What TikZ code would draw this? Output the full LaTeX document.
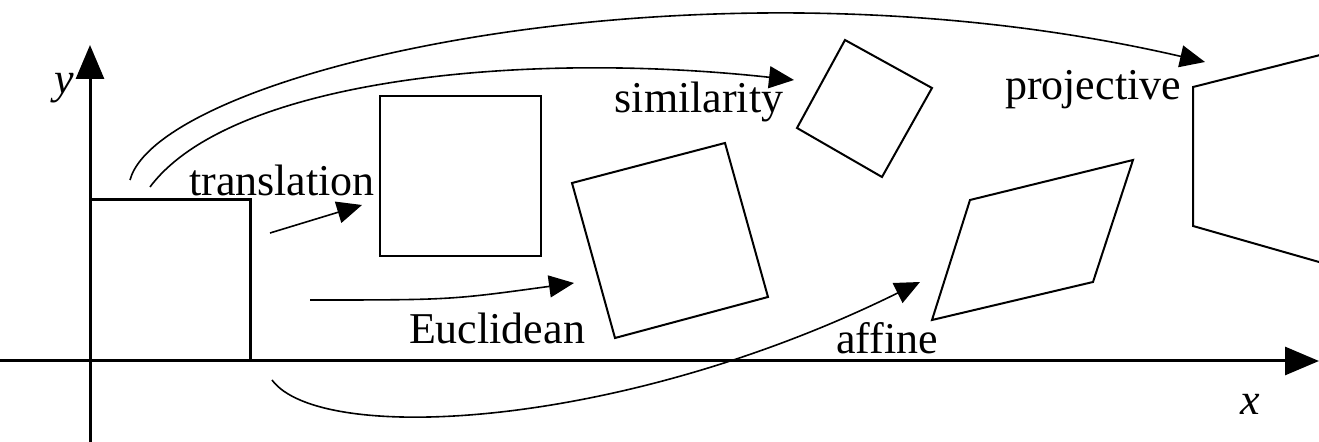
\documentclass[tikz,border=0pt]{standalone}
\usepackage{fontspec}
\setmainfont{Liberation Serif}
\usetikzlibrary{arrows.meta}

\begin{document}
\begin{tikzpicture}[x=0.5pt,y=-0.5pt,>={Triangle[length=12.5pt,width=11pt]},
  axis/.style={line width=1.5pt},
  outline/.style={line width=1pt,line join=miter},
  move/.style={line width=0.8pt,->},
  lbl/.style={font=\fontsize{22}{26}\selectfont,inner sep=0pt}]
\useasboundingbox (0,0) rectangle (1319,442);
% axes
\draw[axis,-{Triangle[length=17pt,width=14pt]}](0,361)--(1319,361);
\draw[axis,-{Triangle[length=17pt,width=14pt]}](90,442)--(90,45);
\node[lbl,font=\fontsize{22}{26}\selectfont\itshape] (ylab) at (64,88) {y};
\node[lbl,font=\fontsize{22}{26}\selectfont\itshape] (xlab) at (1250,404) {x};
% shapes
\draw[axis](90,200)--(250,200)--(250,361);
\draw[outline](380,96) rectangle (541,256);
\draw[outline](572,183)--(725,143)--(768,297)--(615,338)--cycle;
\draw[outline](845,40)--(932,88)--(882,177)--(797,128)--cycle;
\draw[outline](970,200)--(1133,160)--(1093,282)--(932,320)--cycle;
\begin{scope}
\clip (0,0) rectangle (1319,442);
\draw[outline](1340,50)--(1193,87)--(1193,226)--(1340,268);
\end{scope}
% labels
\node[lbl] (trans) at (282,180) {translation};
\node[lbl] (eucl) at (497,328) {Euclidean};
\node[lbl] (simil) at (699,102) {similarity};
\node[lbl] (aff) at (887,338) {affine};
\node[lbl] (proj) at (1093,90) {projective};
% arrows
\coordinate (t0) at (270,233); \coordinate (t1) at (362,205);
\coordinate (e0) at (310,300); \coordinate (e1) at (574,283);
\coordinate (s0) at (150,187); \coordinate (s1) at (794,80);
\coordinate (p0) at (130,180); \coordinate (p1) at (1205,62);
\coordinate (a0) at (272,380); \coordinate (a1) at (920,282);
\draw[move](t0)--(t1);
\draw[move](e0)..controls(450,300)..(e1);
\draw[move](s0)..controls(230,80) and (520,50)..(s1);
\draw[move](p0)..controls(160,70) and (700,-55)..(p1);
\draw[move](a0)..controls(320,445) and (620,430)..(a1);
\end{tikzpicture}
\end{document}
